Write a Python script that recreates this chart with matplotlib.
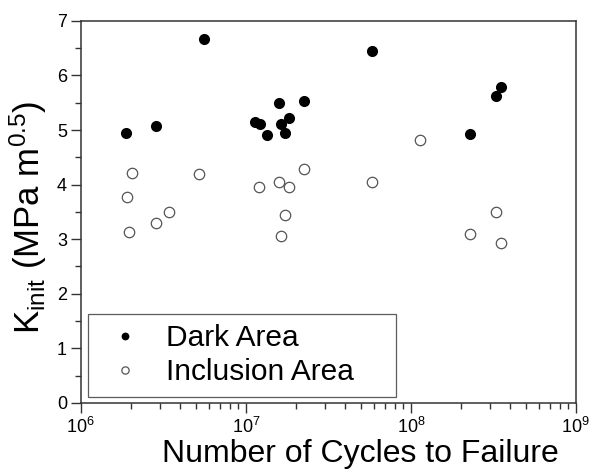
import numpy as np
import matplotlib
matplotlib.use('Agg')
import matplotlib.pyplot as plt
from matplotlib.ticker import LogLocator, MultipleLocator

plt.rcParams['font.family'] = ['Liberation Sans', 'DejaVu Sans']
plt.rcParams['mathtext.fontset'] = 'custom'
plt.rcParams['mathtext.rm'] = 'Liberation Sans'
plt.rcParams['mathtext.it'] = 'Liberation Sans:italic'

# Данные: тёмная область (закрашенные точки)
dark_cycles = [1.89e6, 2.84e6, 5.56e6, 1.135e7, 1.216e7, 1.346e7, 1.585e7, 1.637e7,
               1.824e7, 1.73e7, 2.25e7, 5.78e7, 2.28e8, 3.26e8, 3.5e8]
dark_k = [4.95, 5.08, 6.67, 5.14, 5.11, 4.91, 5.49, 5.11,
          5.22, 4.95, 5.53, 6.45, 4.93, 5.63, 5.79]

# Данные: область включения (пустые точки)
incl_cycles = [1.9e6, 1.95e6, 2.03e6, 2.84e6, 3.44e6, 5.19e6, 1.21e7, 1.585e7, 1.64e7,
               1.73e7, 1.82e7, 2.25e7, 5.78e7, 1.135e8, 2.28e8, 3.26e8, 3.5e8]
incl_k = [3.77, 3.13, 4.21, 3.29, 3.49, 4.20, 3.95, 4.04, 3.05,
          3.45, 3.96, 4.28, 4.04, 4.82, 3.10, 3.50, 2.92]

fig = plt.figure(figsize=(5.9, 4.75), dpi=100)
ax = fig.add_axes([0.137, 0.152, 0.839, 0.804])

ax.plot(dark_cycles, dark_k, 'o', color='black', markersize=8, markeredgewidth=0,
        label='Dark Area')
ax.plot(incl_cycles, incl_k, 'o', markerfacecolor='white', markeredgecolor='#555555',
        markersize=7.5, markeredgewidth=0.9, label='Inclusion Area')

ax.set_xscale('log')
ax.set_xlim(1e6, 1e9)
ax.set_ylim(0, 7)
ax.xaxis.set_major_locator(LogLocator(base=10, numticks=10))
ax.xaxis.set_minor_locator(LogLocator(base=10, subs=np.arange(2, 10), numticks=10))
ax.yaxis.set_major_locator(MultipleLocator(1))
ax.yaxis.set_minor_locator(MultipleLocator(0.5))

for s in ax.spines.values():
    s.set_linewidth(1.1)
    s.set_color('#333333')
ax.tick_params(which='major', direction='out', length=7, width=1.0, color='#333333',
               labelsize=13, pad=3)
ax.tick_params(which='minor', direction='out', length=4, width=1.0, color='#333333')

ax.set_xlabel('Number of Cycles to Failure', fontsize=23)
ax.xaxis.set_label_coords(0.564, -0.095)
ax.set_ylabel(r'K$_{\mathrm{init}}$ (MPa m$^{0.5}$)', fontsize=25)
ax.yaxis.set_label_coords(-0.064, 0.487)

leg = ax.legend(loc='lower left', bbox_to_anchor=(0.014, 0.016, 0.622, 0.21),
                mode='expand', borderaxespad=0, fontsize=21.5,
                frameon=True, fancybox=False, edgecolor='#333333', markerscale=0.7,
                handletextpad=0.47, borderpad=0.35, labelspacing=0.2, handlelength=1.8)
leg.get_frame().set_linewidth(0.9)

fig.savefig('out.png', dpi=100)
